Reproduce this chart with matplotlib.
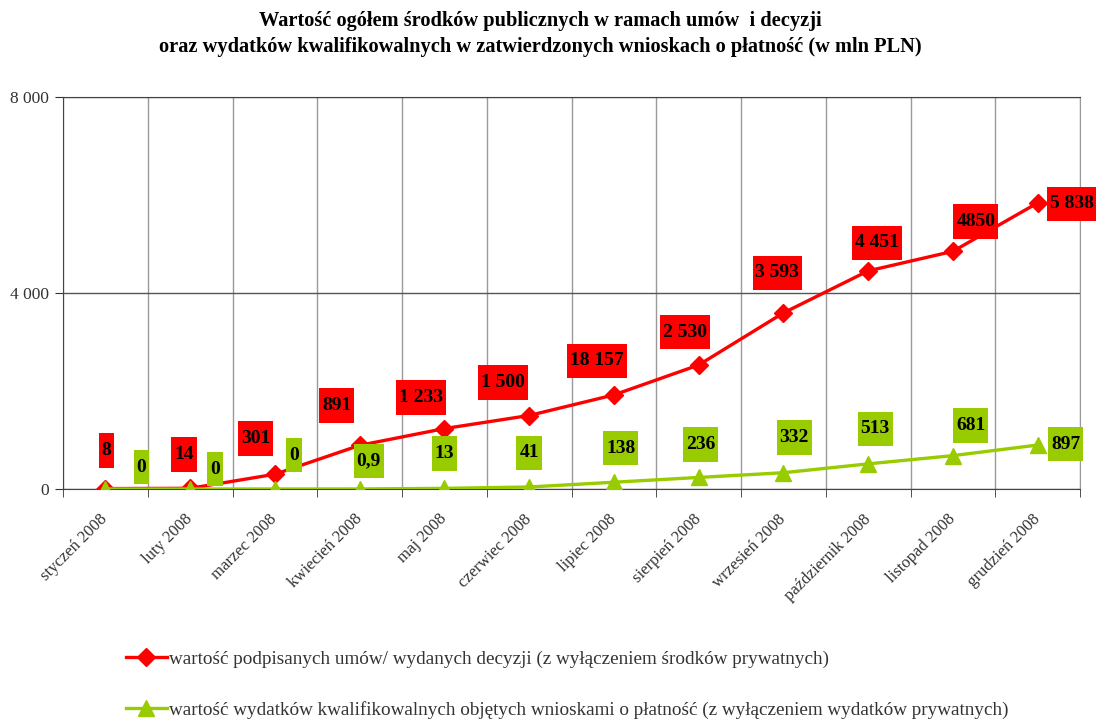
import numpy as np
import matplotlib
matplotlib.use("Agg")
import matplotlib.pyplot as plt
from matplotlib.path import Path

plt.rcParams['font.family'] = ['Liberation Serif', 'DejaVu Serif']

months = ['styczeń 2008', 'luty 2008', 'marzec 2008', 'kwiecień 2008', 'maj 2008',
          'czerwiec 2008', 'lipiec 2008', 'sierpień 2008', 'wrzesień 2008',
          'październik 2008', 'listopad 2008', 'grudzień 2008']
umowy = [8, 14, 301, 891, 1233, 1500, 1920, 2530, 3593, 4451, 4850, 5838]
umowy_labels = ['8', '14', '301', '891', '1 233', '1 500', '18 157', '2 530',
                '3 593', '4 451', '4850', '5 838']
wnioski = [0, 0, 0, 0.9, 13, 41, 138, 236, 332, 513, 681, 897]
wnioski_labels = ['0', '0', '0', '0,9', '13', '41', '138', '236', '332', '513', '681', '897']

name_umowy = 'wartość podpisanych umów/ wydanych decyzji (z wyłączeniem środków prywatnych)'
name_wnioski = 'wartość wydatków kwalifikowalnych objętych wnioskami o płatność (z wyłączeniem wydatków prywatnych)'

RED = '#FF0000'
GREEN = '#99CC00'

# label offsets in pixels (dx, dy up)
off_red = [(1, 38), (-6, 34), (-19, 36), (-23, 40), (-23, 31), (-26, 33), (-17, 34),
           (-14, 33), (-6, 40), (9, 28), (23, 30), (34, -1)]
off_green = [(36, 22), (25, 20), (19, 34), (9, 28), (0, 35), (0, 34), (7, 34),
             (2, 33), (11, 35), (7, 35), (18, 30), (28, 1)]


def tallbox(x0, y0, width, height, mutation_size):
    hp = 0.15 * mutation_size
    vp = 0.45 * mutation_size
    x0, y0 = x0 - hp, y0 - vp
    x1, y1 = x0 + width + 2 * hp, y0 + height + 2 * vp
    return Path([(x0, y0), (x1, y0), (x1, y1), (x0, y1), (x0, y0)], closed=True)


fig = plt.figure(figsize=(10.96, 7.23), dpi=100)
ax = fig.add_axes([63 / 1096, 1 - 489 / 723, (1080 - 63) / 1096, (489 - 97) / 723])

x = np.arange(len(months))
ax.plot(x, umowy, color=RED, lw=2.4, marker='D', ms=9, zorder=3, label=name_umowy)
ax.plot(x, wnioski, color=GREEN, lw=2.4, marker='^', ms=11, zorder=4, label=name_wnioski)

for xi, yi, t, o in zip(x, umowy, umowy_labels, off_red):
    ax.annotate(t, (xi, yi), xytext=o, textcoords='offset pixels', ha='center', va='center',
                fontsize=14, fontweight='bold', color='black', annotation_clip=False,
                bbox=dict(boxstyle=tallbox, fc=RED, ec='none'), zorder=6)
for xi, yi, t, o in zip(x, wnioski, wnioski_labels, off_green):
    ax.annotate(t, (xi, yi), xytext=o, textcoords='offset pixels', ha='center', va='center',
                fontsize=14, fontweight='bold', color='black', annotation_clip=False,
                bbox=dict(boxstyle=tallbox, fc=GREEN, ec='none'), zorder=6)

ax.set_xlim(-0.5, len(months) - 0.5)
ax.set_ylim(0, 8000)
ax.set_yticks([0, 4000, 8000])
ax.set_yticklabels(['0', '4 000', '8 000'], fontsize=12.5, color='#333333')
ax.set_xticks(x)
ax.set_xticklabels(months, rotation=45, ha='right', va='center', rotation_mode='anchor',
                   fontsize=12, color='#333333')
ax.set_xticks(np.arange(len(months) + 1) - 0.5, minor=True)
ax.tick_params(axis='x', which='major', length=0, pad=20)
ax.tick_params(axis='x', which='minor', length=6, color='#333333', direction='out')
ax.tick_params(axis='y', length=6, color='#333333', direction='out', pad=4)
ax.grid(axis='x', which='minor', color='#999999', lw=1)
ax.grid(axis='y', which='major', color='#555555', lw=1)
ax.set_axisbelow(True)
for s in ax.spines.values():
    s.set_color('#444444')
ax.spines['right'].set_color('#999999')

fig.text(540 / 1096, 1 - 34 / 723,
         'Wartość ogółem środków publicznych w ramach umów  i decyzji\n'
         'oraz wydatków kwalifikowalnych w zatwierdzonych wnioskach o płatność (w mln PLN)',
         ha='center', va='center', fontsize=14.7, fontweight='bold', linespacing=1.45)

fig.legend(loc='upper left', bbox_to_anchor=(109 / 1096, 1 - 633 / 723), frameon=False,
           fontsize=13.8, labelspacing=1.75, handlelength=2.1, handletextpad=0.15,
           borderpad=0.4, labelcolor='#333333')

fig.savefig('out.png', dpi=100)
